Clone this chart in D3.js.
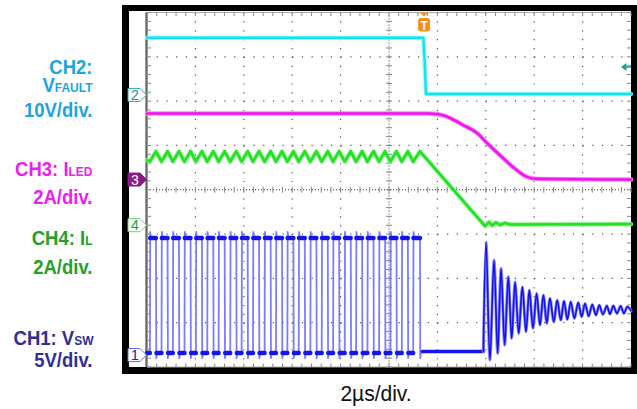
<!DOCTYPE html>
<html><head><meta charset="utf-8">
<script src="https://cdn.jsdelivr.net/npm/d3@7"></script>
<style>
html,body{margin:0;padding:0;background:#fff;}
svg{display:block;}
text{font-family:"Liberation Sans",Arial,Helvetica,sans-serif;}
</style></head><body>
<svg id="c" width="637" height="409"></svg>
<script>
// ---------- data (time in µs, 2 µs/div; values in channel units) ----------
const timeDomain = [0, 20];
const divDomain = [-4, 4];

// CH1 VSW switching edges (µs)
const ch1Rise = [0.12,0.60,1.07,1.55,2.02,2.49,2.96,3.44,3.91,4.38,4.86,5.33,5.80,6.27,6.75,7.22,7.69,8.17,8.64,9.11,9.59,10.06,10.53,11.00];
const ch1Fall = [0.37,0.85,1.32,1.80,2.27,2.74,3.21,3.69,4.16,4.63,5.11,5.58,6.05,6.52,7.00,7.47,7.94,8.42,8.89,9.36,9.84,10.31,10.78,11.28];
const ch1LowV = 0.23, ch1HighV = 13.2, ch1OverV = 13.9, ch1UnderV = -0.35, ch1IdleV = 0.4;
const ch1IdleEnd = 13.90;
// CH1 ringing after diode stops conducting (µs, V)
const ch1RingT = [14.01,14.17,14.34,14.49,14.63,14.78,14.93,15.07,15.21,15.36,15.51,15.66,15.80,15.95,16.10,16.24,16.38,16.52,16.65,16.81,16.95,17.10,17.23,17.37,17.51,17.66,17.82,17.96,18.10,18.25,18.40,18.55,18.69,18.84,19.00,19.13,19.27,19.42,19.57,19.71,19.85,20.00];
const ch1RingV = [12.76,-0.56,10.70,0.19,9.76,1.13,8.82,1.88,8.25,2.44,7.69,2.62,7.32,3.01,6.95,3.38,6.76,3.57,6.39,3.75,6.19,3.94,6.08,4.02,6.00,4.13,5.93,4.31,5.82,4.39,5.71,4.50,5.63,4.58,5.55,4.62,5.55,4.70,5.52,4.70,5.44,5.00];

// CH2 VFAULT (µs, V)
const ch2T = [0, 11.42, 11.47, 11.53, 20];
const ch2V = [12.9, 12.9, 8.0, 0.2, 0.2];
const ch2TrigLevel = 6.3;

// CH3 ILED (µs, A)
const ch3T = [0, 11.60, 11.98, 12.23, 12.52, 13.06, 13.64, 14.05, 14.71, 15.12, 15.70, 16.12, 20];
const ch3I = [2.98, 2.98, 2.96, 2.90, 2.78, 2.46, 2.10, 1.65, 0.97, 0.57, 0.12, 0.03, 0.0];

// CH4 IL (µs, A): valleys at VSW rises, peaks at VSW falls, then ramp-down tail
const ch4StartI = 2.94, ch4ValleyI = 2.87, ch4PeakI = 3.33;
const ch4TailT = [13.97, 14.13, 14.26, 14.42, 14.59, 14.79, 15.00, 20];
const ch4TailI = [-0.04, 0.14, -0.01, 0.12, 0.01, 0.10, 0.03, 0.05];

// channel offsets (divisions from centre) and scales (units/div)
const chOffset = {ch1: -3.73, ch2: 2.14, ch3: 0.23, ch4: -0.80};
const chScale  = {ch1: 5, ch2: 10, ch3: 2, ch4: 2};
const triggerTime = 11.45;

const labelCH2 = ["CH2:", "V", "FAULT", "10V/div."];
const labelCH3 = ["CH3: I", "LED", "2A/div."];
const labelCH4 = ["CH4: I", "L", "2A/div."];
const labelCH1 = ["CH1: V", "SW", "5V/div."];
const xLabel = "2µs/div.";

// ---------- drawing ----------
const svg = d3.select("#c");
const L = 147, R = 631, T = 12.5, B = 367;
const x = d3.scaleLinear().domain(timeDomain).range([L, R]);
const yDiv = d3.scaleLinear().domain(divDomain).range([B, T]);
const yCh = ch => v => yDiv(chOffset[ch] + v / chScale[ch]);

// frame
svg.append("rect").attr("x",122).attr("y",5).attr("width",515).attr("height",369).attr("fill","#000");
svg.append("rect").attr("x",129).attr("y",11).attr("width",502).attr("height",356).attr("fill","#fff");

const g = svg.append("g");
const majorX = d3.range(0, 21, 2);
const majorY = d3.range(-4, 5, 1);
const minorX = d3.range(0, 20.001, 0.4);
const minorY = d3.range(-4, 4.001, 0.2);
const pxDivY = (B - T) / 8 / 5, pxDivX = (R - L) / 10 / 5;

// dotted grid
g.selectAll(".gv").data(majorX.filter(d => d > 0 && d < 20 && d !== 10)).join("line")
  .attr("x1", d => x(d)).attr("x2", d => x(d)).attr("y1", T).attr("y2", B)
  .attr("stroke", "#555").attr("stroke-width", 1.2)
  .attr("stroke-dasharray", `1.2 ${pxDivY - 1.2}`);
g.selectAll(".gh").data(majorY.filter(d => d > -4 && d < 4 && d !== 0)).join("line")
  .attr("y1", d => yDiv(d)).attr("y2", d => yDiv(d)).attr("x1", L).attr("x2", R)
  .attr("stroke", "#555").attr("stroke-width", 1.2)
  .attr("stroke-dasharray", `1.2 ${pxDivX - 1.2}`);

// centre lines
g.append("line").attr("x1", L).attr("x2", R).attr("y1", yDiv(0)).attr("y2", yDiv(0))
  .attr("stroke", "#333").attr("stroke-width", 1).attr("stroke-dasharray", "1 2");
g.append("line").attr("y1", T).attr("y2", B).attr("x1", x(10)).attr("x2", x(10))
  .attr("stroke", "#333").attr("stroke-width", 1).attr("stroke-dasharray", "1 2");
g.selectAll(".ctx").data(minorX).join("line")
  .attr("x1", d => x(d)).attr("x2", d => x(d)).attr("y1", yDiv(0) - 3).attr("y2", yDiv(0) + 3)
  .attr("stroke", "#888");
g.selectAll(".cty").data(minorY).join("line")
  .attr("y1", d => yDiv(d)).attr("y2", d => yDiv(d)).attr("x1", x(10) - 3).attr("x2", x(10) + 3)
  .attr("stroke", "#888");

// borders with ticks
g.append("line").attr("x1", L).attr("x2", R).attr("y1", T).attr("y2", T).attr("stroke", "#aaa");
g.append("line").attr("x1", L).attr("x2", R).attr("y1", B).attr("y2", B).attr("stroke", "#aaa");
g.selectAll(".ttop").data(minorX).join("line")
  .attr("x1", d => x(d)).attr("x2", d => x(d)).attr("y1", T).attr("y2", T + 3.5).attr("stroke", "#888");
g.selectAll(".tbot").data(minorX).join("line")
  .attr("x1", d => x(d)).attr("x2", d => x(d)).attr("y1", B - 3.5).attr("y2", B).attr("stroke", "#888");
g.selectAll(".tl").data(minorY).join("line")
  .attr("y1", d => yDiv(d)).attr("y2", d => yDiv(d)).attr("x1", L).attr("x2", L + 4).attr("stroke", "#888");
g.selectAll(".tr").data(minorY).join("line")
  .attr("y1", d => yDiv(d)).attr("y2", d => yDiv(d)).attr("x1", R - 4).attr("x2", R).attr("stroke", "#888");
g.append("line").attr("x1", L - 0.5).attr("x2", L - 0.5).attr("y1", T).attr("y2", B)
  .attr("stroke", "#999").attr("stroke-width", 3);
g.append("line").attr("x1", L - 0.5).attr("x2", L - 0.5).attr("y1", T).attr("y2", B)
  .attr("stroke", "#666").attr("stroke-width", 1);

// ---------- traces ----------
const tr = svg.append("g");
function drawLine(pts, yf, color, width, curve) {
  const line = d3.line().x(d => x(d[0])).y(d => yf(d[1])).curve(curve || d3.curveLinear);
  tr.append("path").attr("d", line(pts)).attr("fill", "none").attr("stroke", color)
    .attr("stroke-width", width).attr("stroke-linejoin", "round").attr("stroke-linecap", "round");
}

// CH2
const y2 = yCh("ch2");
drawLine(ch2T.map((t, i) => [t, ch2V[i]]), y2, "#8ef6fa", 4.2);
drawLine(ch2T.map((t, i) => [t, ch2V[i]]), y2, "#12e4ee", 2.4);

// CH3
const y3 = yCh("ch3");
const ch3Pts = ch3T.map((t, i) => [t, ch3I[i]]);
drawLine(ch3Pts, y3, "#f78af7", 4.4, d3.curveMonotoneX);
drawLine(ch3Pts, y3, "#ee16ee", 2.6, d3.curveMonotoneX);

// CH4
const y4 = yCh("ch4");
const ch4Pts = [[0, ch4StartI]];
ch1Rise.forEach((r, i) => { ch4Pts.push([r, ch4ValleyI], [ch1Fall[i], ch4PeakI]); });
ch4TailT.forEach((t, i) => ch4Pts.push([t, ch4TailI[i]]));
drawLine(ch4Pts, y4, "#8ef58e", 4.4);
drawLine(ch4Pts, y4, "#22e022", 2.6);

// CH1
const y1 = yCh("ch1");
const sw = [[0, ch1LowV]];
const flatsHigh = [], flatsLow = [[0, ch1Rise[0]]];
ch1Rise.forEach((r, i) => {
  const f = ch1Fall[i];
  sw.push([r, ch1LowV], [r + 0.012, ch1OverV], [r + 0.04, ch1HighV], [f, ch1HighV],
          [f + 0.012, ch1UnderV], [f + 0.04, ch1LowV]);
  flatsHigh.push([r + 0.01, f]);
  if (i + 1 < ch1Rise.length) flatsLow.push([f + 0.02, ch1Rise[i + 1]]);
});
sw.push([ch1Fall[ch1Fall.length - 1] + 0.1, ch1IdleV], [ch1IdleEnd, ch1IdleV]);
drawLine(sw, y1, "#7c7cff", 1.8);
flatsHigh.forEach(s => drawLine([[s[0], ch1HighV], [s[1], ch1HighV]], y1, "#1414ee", 4.4));
flatsLow.forEach(s => drawLine([[s[0], ch1LowV], [s[1], ch1LowV]], y1, "#1414ee", 4.4));
drawLine([[ch1Fall[ch1Fall.length - 1] + 0.1, ch1IdleV], [ch1IdleEnd, ch1IdleV]], y1, "#1414ee", 3.6);
const ring = [[ch1IdleEnd, ch1IdleV]].concat(ch1RingT.map((t, i) => [t, ch1RingV[i]]));
drawLine(ring, y1, "#8a8aff", 3.0, d3.curveCatmullRom);
drawLine(ring, y1, "#1212ee", 1.6, d3.curveCatmullRom);

// ---------- channel markers ----------
const mk = svg.append("g");
function marker(ch, num, stroke, fill, txt) {
  const yy = yDiv(chOffset[ch]);
  const x0 = 128, x1 = 140, x2 = 146.5, h = 6.5;
  mk.append("path").attr("d", `M${x0},${yy - h}L${x1},${yy - h}L${x2},${yy}L${x1},${yy + h}L${x0},${yy + h}Z`)
    .attr("fill", fill).attr("stroke", stroke).attr("stroke-width", 1);
  mk.append("text").attr("x", 135).attr("y", yy + 5).attr("text-anchor", "middle")
    .attr("font-size", 14).attr("fill", txt).text(num);
}
marker("ch2", "2", "#2aa8a8", "#fff", "#1f9090");
marker("ch3", "3", "#8a1a8a", "#8a1a8a", "#fff");
marker("ch4", "4", "#6fd06f", "#fff", "#2a9a2a");
marker("ch1", "1", "#6a6ae0", "#fff", "#22229a");

// trigger marker
const tx = x(triggerTime);
mk.append("path").attr("d", `M${tx - 4.5},${T}L${tx + 4.5},${T}L${tx},${T + 4}Z`).attr("fill", "#f5901e");
mk.append("rect").attr("x", tx - 6).attr("y", 18).attr("width", 12).attr("height", 13.5).attr("rx", 3)
  .attr("fill", "#f5901e");
mk.append("text").attr("x", tx).attr("y", 29.5).attr("text-anchor", "middle").attr("font-size", 12)
  .attr("font-weight", "bold").attr("fill", "#fff").text("T");

// trigger level arrow (right)
const ty = y2(ch2TrigLevel);
mk.append("path").attr("d", `M${R - 10},${ty}L${R - 4.5},${ty - 4}L${R - 4.5},${ty + 4}Z`).attr("fill", "#1e9c9c");
mk.append("line").attr("x1", R - 5).attr("x2", R).attr("y1", ty).attr("y2", ty).attr("stroke", "#1e9c9c").attr("stroke-width", 1.5);

// ---------- labels ----------
const lab = svg.append("g").attr("font-weight", "bold");
function label(yb, color, big, small, xr) {
  const t = lab.append("text").attr("transform", `translate(${xr || 92.5},${yb}) scale(1,1.08)`)
    .attr("text-anchor", "end").attr("fill", color).attr("font-size", 18.5);
  t.append("tspan").text(big);
  if (small) t.append("tspan").attr("font-size", 12).text(small);
}
label(74, "#19a5e0", labelCH2[0]);
label(91.5, "#19a5e0", labelCH2[1], labelCH2[2]);
label(117, "#19a5e0", labelCH2[3]);
label(175.5, "#ee1cee", labelCH3[0], labelCH3[1]);
label(204, "#ee1cee", labelCH3[2]);
label(245, "#22a02a", labelCH4[0], labelCH4[1]);
label(273.5, "#22a02a", labelCH4[2]);
label(345, "#2e2e96", labelCH1[0], labelCH1[1], 93.5);
label(367, "#2e2e96", labelCH1[2]);

svg.append("text").attr("transform", `translate(376,401) scale(1,1.08)`).attr("text-anchor", "middle")
  .attr("font-size", 21).attr("fill", "#111").text(xLabel);
</script>
</body></html>
